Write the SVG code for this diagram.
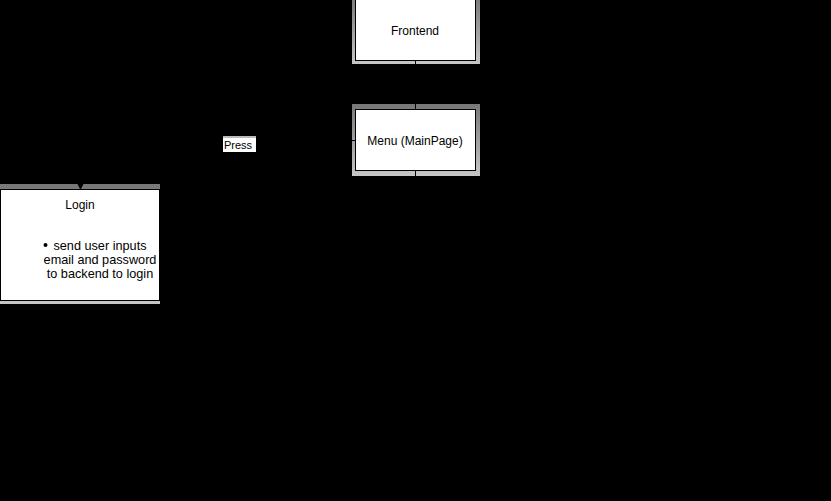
<svg xmlns="http://www.w3.org/2000/svg" width="831" height="501" viewBox="0 0 831 501">
<defs>
<linearGradient id="fr" x1="0" y1="0" x2="0" y2="1">
<stop offset="0" stop-color="#777"/>
<stop offset="1" stop-color="#c6c6c6"/>
</linearGradient>
<marker id="arr" markerWidth="8" markerHeight="8" refX="7" refY="4" orient="auto" markerUnits="userSpaceOnUse">
<path d="M0,0 L8,4 L0,8 Z" fill="#000"/>
</marker>
</defs>
<style>
.frame{fill:url(#fr)}
.box{fill:#fff;stroke:#000;stroke-width:1}
.t{font-family:"Liberation Sans",Arial,sans-serif;font-size:12px;fill:#000;text-anchor:middle}
.b{font-size:12.7px}
.lbl{font-family:"Liberation Sans",Arial,sans-serif;font-size:11px;fill:#000}
.edge{fill:none;stroke:#000;stroke-width:1}
</style>
<rect width="831" height="501" fill="#000"/>
<g id="frontend">
<rect class="frame" x="352" y="-4" width="128" height="68"/>
<rect class="box" x="355.5" y="-1" width="120" height="61.5"/>
<text class="t" x="415" y="35">Frontend</text>
</g>
<g id="menu">
<rect class="frame" x="352" y="104" width="128" height="72"/>
<rect class="box" x="355.5" y="109.5" width="120" height="61"/>
<text class="t" x="415" y="145">Menu (MainPage)</text>
</g>
<g id="login">
<rect class="frame" x="-2" y="184" width="162" height="120"/>
<rect class="box" x="0.5" y="189.5" width="159" height="111"/>
<text class="t" x="80" y="209">Login</text>
<circle cx="45.5" cy="245" r="2" fill="#000"/>
<text class="t b" x="100" y="250">send user inputs</text>
<text class="t b" x="100" y="264">email and password</text>
<text class="t b" x="100" y="278">to backend to login</text>
</g>
<g id="connectors">
<path class="edge" d="M415.5,61 L415.5,109"/>
<path class="edge" d="M355,140.5 L80.5,140.5 L80.5,189" marker-end="url(#arr)"/>
<path class="edge" d="M415.5,171 L415.5,178"/>
<rect x="223" y="136" width="33" height="16" fill="#fff"/>
<rect x="223" y="136" width="33" height="2" fill="#bbb"/>
<text class="lbl" x="224" y="149">Press</text>
</g>
</svg>
